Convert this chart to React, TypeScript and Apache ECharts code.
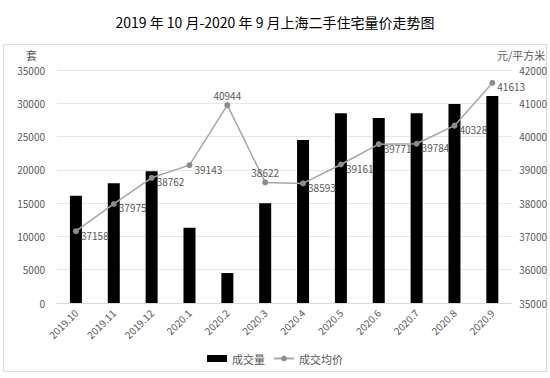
import React, { useEffect, useRef } from "react";
import * as echarts from "echarts";

const months = ["2019.10", "2019.11", "2019.12", "2020.1", "2020.2", "2020.3", "2020.4", "2020.5", "2020.6", "2020.7", "2020.8", "2020.9"];
const volume = [16100, 18000, 19800, 11300, 4500, 15000, 24500, 28500, 27800, 28500, 29900, 31100];
const avgPrice = [37158, 37975, 38762, 39143, 40944, 38622, 38593, 39161, 39771, 39784, 40328, 41613];
const titleText = "2019 年 10 月-2020 年 9 月上海二手住宅量价走势图";

const FONT = "'Noto Sans CJK SC', 'Noto Sans', sans-serif";
const topLabelIdx = [4, 5];

export default function App() {
  const ref = useRef<HTMLDivElement>(null);
  useEffect(() => {
    if (!ref.current) return;
    const chart = echarts.init(ref.current, null, { renderer: "svg" });
    chart.setOption({
      animation: false,
      backgroundColor: "#fff",
      textStyle: { fontFamily: FONT },
      title: {
        text: titleText,
        left: "center",
        top: 10,
        textStyle: { fontSize: 14, fontWeight: "normal", color: "#000", fontFamily: FONT },
      },
      graphic: [
        {
          type: "rect",
          shape: { x: 3.5, y: 44.5, width: 543, height: 327 },
          style: { fill: "none", stroke: "#d9d9d9", lineWidth: 1 },
          silent: true,
          z: -1,
        },
      ],
      legend: {
        top: 348,
        left: "center",
        itemWidth: 20,
        itemHeight: 7,
        itemGap: 8,
        textStyle: { fontSize: 11, color: "#595959", fontFamily: FONT },
        data: [
          { name: "成交量", icon: "rect" },
          { name: "成交均价" },
        ],
      },
      grid: { left: 57, right: 37, top: 70, bottom: 75 },
      xAxis: {
        type: "category",
        data: months,
        axisLine: { lineStyle: { color: "#d9d9d9" } },
        axisTick: { show: false },
        axisLabel: { rotate: 45, fontSize: 10, color: "#595959", interval: 0, margin: 8 },
      },
      yAxis: [
        {
          type: "value",
          name: "套",
          nameLocation: "end",
          nameGap: 10,
          nameTextStyle: { fontSize: 11, color: "#595959", align: "right", padding: [0, 20, 0, 0] },
          min: 0,
          max: 35000,
          interval: 5000,
          axisLine: { show: false },
          axisTick: { show: false },
          axisLabel: { fontSize: 10, color: "#595959", margin: 12, formatter: (v: number) => String(v) },
          splitLine: { lineStyle: { color: "#e6e6e6" } },
        },
        {
          type: "value",
          name: "元/平方米",
          nameLocation: "end",
          nameGap: 10,
          nameTextStyle: { fontSize: 11, color: "#595959", align: "right", padding: [0, -34, 0, 0] },
          min: 35000,
          max: 42000,
          interval: 1000,
          axisLine: { show: false },
          axisTick: { show: false },
          axisLabel: { fontSize: 10, color: "#595959", margin: 8, formatter: (v: number) => String(v) },
          splitLine: { show: false },
        },
      ],
      series: [
        {
          name: "成交量",
          type: "bar",
          data: volume,
          barWidth: 12,
          itemStyle: { color: "#000" },
        },
        {
          name: "成交均价",
          type: "line",
          yAxisIndex: 1,
          data: avgPrice.map((v, i) =>
            topLabelIdx.includes(i)
              ? { value: v, label: { position: "top", offset: [0, 0] } }
              : { value: v }
          ),
          symbol: "circle",
          symbolSize: 6,
          itemStyle: { color: "#8c8c8c" },
          lineStyle: { color: "#a6a6a6", width: 1.5 },
          label: {
            show: true,
            position: "right",
            distance: 2,
            offset: [0, 4],
            fontSize: 10,
            color: "#595959",
            formatter: (p: any) => String(p.value),
          },
          z: 3,
        },
      ],
    });
    return () => chart.dispose();
  }, []);
  return <div ref={ref} style={{ position: "fixed", left: 0, top: 0, width: 550, height: 378 }} />;
}
